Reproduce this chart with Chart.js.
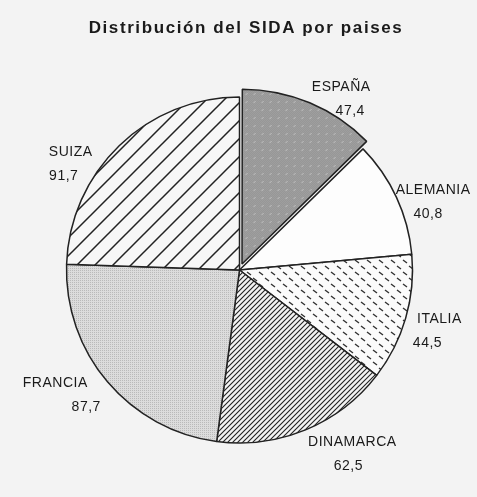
<!DOCTYPE html>
<html>
<head>
<meta charset="utf-8">
<script src="https://cdn.jsdelivr.net/npm/chart.js@4/dist/chart.umd.min.js"></script>
<style>
  html, body { margin: 0; padding: 0; background: #f3f3f3; }
</style>
</head>
<body>
<canvas id="pie" width="477" height="497"></canvas>
<script>
var titulo = 'Distribución del SIDA por paises'
var paises = ['ESPAÑA', 'ALEMANIA', 'ITALIA', 'DINAMARCA', 'FRANCIA', 'SUIZA']
var casos = [47.4, 40.8, 44.5, 62.5, 87.7, 91.7]

// where each label sits: turn (deg) from the slice middle, distance in radii, value shift (px)
var labelLayout = [
    { turn: 6.3, dist: 1.21, dx: 9 },
    { turn: 2.5, dist: 1.21, dx: -5 },
    { turn: -2.4, dist: 1.19, dx: -12 },
    { turn: -10.8, dist: 1.19, dx: -4 },
    { turn: 8.7, dist: 1.25, dx: 31 },
    { turn: -11, dist: 1.19, dx: -7 }
]

const ctx = document.getElementById('pie').getContext('2d');

// === little canvas tiles used as fills, like the old hatch screens ===
function makeTile(size, draw) {
    var c = document.createElement('canvas')
    c.width = size; c.height = size
    draw(c.getContext('2d'), size)
    return ctx.createPattern(c, 'repeat')
}

function diagonal(size, width, bg) {
    return makeTile(size, function(g, s) {
        g.fillStyle = bg
        g.fillRect(0, 0, s, s)
        g.strokeStyle = '#222'
        g.lineWidth = width
        g.beginPath()
        g.moveTo(-1, s + 1); g.lineTo(s + 1, -1)
        g.moveTo(-1, 1); g.lineTo(1, -1)
        g.moveTo(s - 1, s + 1); g.lineTo(s + 1, s - 1)
        g.stroke()
    })
}

var fillEspana = makeTile(8, function(g, s) {
    g.fillStyle = '#b8b8b8'
    g.fillRect(0, 0, s, s)
    g.fillStyle = '#7e7e7e'
    for (var y = 0; y < s; y++)
        for (var x = 0; x < s; x++)
            if ((x + y) % 2 == 0) g.fillRect(x, y, 1, 1)
    g.fillStyle = '#e0e0e0'
    g.fillRect(3, 4, 1, 1); g.fillRect(4, 3, 1, 1)
})

var fillItalia = makeTile(12, function(g, s) {
    g.fillStyle = '#fbfbfb'
    g.fillRect(0, 0, s, s)
    g.strokeStyle = '#333'
    g.lineWidth = 1.4
    g.beginPath()
    g.moveTo(1, 2); g.lineTo(5, 5)
    g.moveTo(7, 8); g.lineTo(11, 11)
    g.stroke()
})

var fillFrancia = makeTile(4, function(g, s) {
    g.fillStyle = '#dcdcdc'
    g.fillRect(0, 0, s, s)
    g.fillStyle = '#bababa'
    g.fillRect(0, 0, 1, 1); g.fillRect(2, 2, 1, 1)
    g.fillRect(2, 0, 1, 1); g.fillRect(0, 2, 1, 1)
})

var fills = [fillEspana, '#fdfdfd', fillItalia, diagonal(5, 1.1, '#f4f4f4'), fillFrancia, diagonal(18, 1.5, '#f7f7f7')]

// === plugin: background, title and outer labels ===
var decor = {
    id: 'decor',
    beforeDraw: function(chart) {
        var c = chart.ctx
        c.save()
        c.fillStyle = '#f3f3f3'
        c.fillRect(0, 0, chart.width, chart.height)
        c.restore()
    },
    afterDraw: function(chart) {
        var c = chart.ctx
        c.save()
        c.fillStyle = '#1a1a1a'
        c.textAlign = 'center'
        c.textBaseline = 'middle'
        c.font = 'bold 17px "Liberation Sans", Arial, sans-serif'
        c.letterSpacing = '1.6px'
        c.fillText(titulo, 246, 28)

        c.font = '14px "Liberation Sans", Arial, sans-serif'
        c.letterSpacing = '0.5px'
        var arcs = chart.getDatasetMeta(0).data
        for (var i in arcs) {
            var p = arcs[i].getProps(['x', 'y', 'startAngle', 'endAngle', 'outerRadius'], true)
            var lay = labelLayout[i]
            var a = (p.startAngle + p.endAngle) / 2 + lay.turn * Math.PI / 180
            var lx = p.x + Math.cos(a) * p.outerRadius * lay.dist
            var ly = p.y + Math.sin(a) * p.outerRadius * lay.dist
            c.fillText(paises[i], lx, ly)
            c.fillText(casos[i].toFixed(1).replace('.', ','), lx + lay.dx, ly + 24)
        }
        c.restore()
    }
}

var config = {
    type: 'pie',
    data: {
        labels: paises,
        datasets: [{
            data: casos,
            backgroundColor: fills,
            borderColor: '#222',
            borderWidth: 1.5,
            offset: [26, 0, 0, 0, 0, 0], // arc draws a quarter of this -> ~6px pull-out
            hoverOffset: 0,
            radius: 173
        }]
    },
    options: {
        responsive: false,
        animation: false,
        layout: {
            padding: { top: 43, left: 2, right: 0, bottom: 0 }
        },
        plugins: {
            legend: { display: false },
            tooltip: { enabled: false }
        }
    },
    plugins: [decor]
};
new Chart(ctx, config)
</script>
</body>
</html>
